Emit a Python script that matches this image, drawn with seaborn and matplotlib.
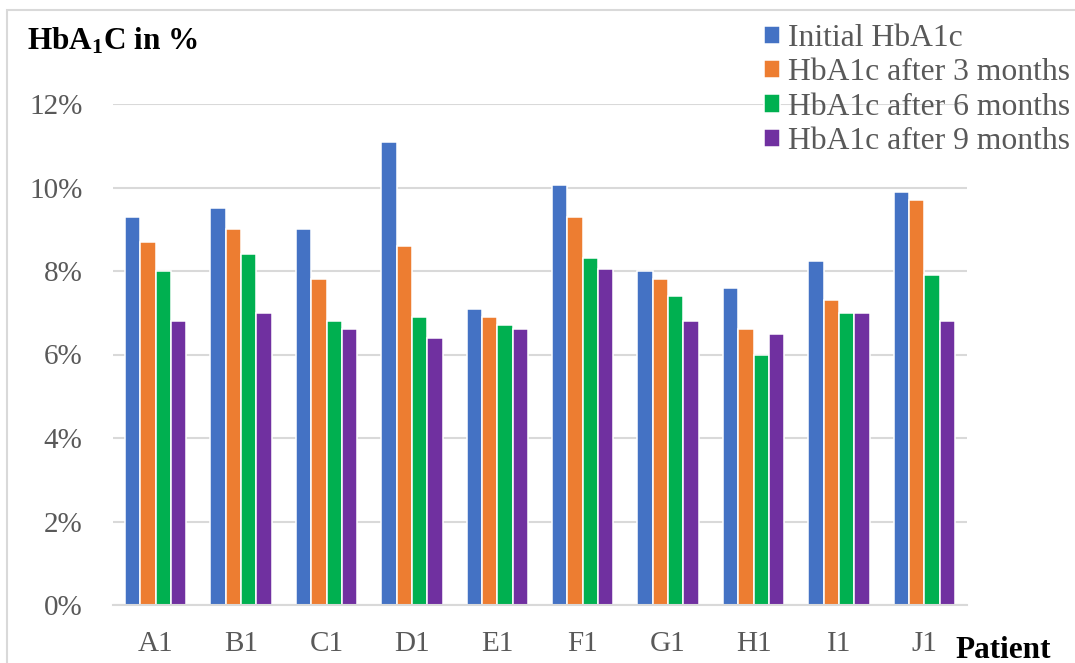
import matplotlib
matplotlib.use("Agg")
import matplotlib.pyplot as plt
import pandas as pd
import seaborn as sns
from matplotlib.patches import Rectangle

patients = ["A1", "B1", "C1", "D1", "E1", "F1", "G1", "H1", "I1", "J1"]
initial = [9.3, 9.5, 9.0, 11.1, 7.1, 10.05, 8.0, 7.6, 8.25, 9.9]
after_3 = [8.7, 9.0, 7.8, 8.6, 6.9, 9.3, 7.8, 6.6, 7.3, 9.7]
after_6 = [8.0, 8.4, 6.8, 6.9, 6.7, 8.3, 7.4, 6.0, 7.0, 7.9]
after_9 = [6.8, 7.0, 6.6, 6.4, 6.6, 8.05, 6.8, 6.5, 7.0, 6.8]

series_names = [
    "Initial HbA1c",
    "HbA1c after 3 months",
    "HbA1c after 6 months",
    "HbA1c after 9 months",
]
colors = ["#4472C4", "#ED7D31", "#00B050", "#7030A0"]
y_ticks = [0, 2, 4, 6, 8, 10, 12]

frames = []
for name, values in zip(series_names, [initial, after_3, after_6, after_9]):
    frames.append(pd.DataFrame({"Patient": patients, "Value": values, "Series": name}))
df = pd.concat(frames, ignore_index=True)

sns.set_theme(style="white")
plt.rcParams["font.family"] = ["Liberation Serif", "DejaVu Serif"]

fig = plt.figure(figsize=(10.75, 6.63), dpi=100)
ax = fig.add_axes([113 / 1075, 1 - 605 / 663, 854 / 1075, 501 / 663])

sns.barplot(
    data=df,
    x="Patient",
    y="Value",
    hue="Series",
    palette=colors,
    saturation=1,
    width=0.72,
    edgecolor="white",
    linewidth=1.1,
    ax=ax,
    legend=True,
)

ax.set_ylim(0, 12)
ax.set_xlim(-0.5, len(patients) - 0.5)
ax.set_yticks(y_ticks)
ax.set_yticklabels([f"{t}%" for t in y_ticks])
ax.set_xlabel("")
ax.set_ylabel("")
ax.grid(axis="y", color="#D9D9D9", linewidth=1.5)
ax.set_axisbelow(True)
for side in ["top", "right", "left"]:
    ax.spines[side].set_visible(False)
ax.spines["bottom"].set_color("#D9D9D9")
ax.spines["bottom"].set_linewidth(1.5)
ax.tick_params(axis="both", length=0, labelsize=21, labelcolor="#595959")
ax.tick_params(axis="y", pad=22)
ax.tick_params(axis="x", pad=19)

handles, labels = ax.get_legend_handles_labels()
ax.legend(
    handles,
    labels,
    loc="upper left",
    bbox_to_anchor=(764 / 1075, 1 - 24 / 663),
    bbox_transform=fig.transFigure,
    frameon=False,
    fontsize=22.8,
    handlelength=0.5,
    handleheight=0.5,
    handletextpad=0.26,
    labelspacing=0.17,
    labelcolor="#595959",
    borderpad=0,
    borderaxespad=0,
)

fig.text(27 / 1075, 1 - 50 / 663, r"HbA$\mathregular{_1}$C in %", fontsize=22.5,
         fontweight="bold", color="black", va="baseline", ha="left")
fig.text(955 / 1075, 1 - 658 / 663, "Patient", fontsize=22.5,
         fontweight="bold", color="black", va="baseline", ha="left")

fig.patches.append(Rectangle((7 / 1075, -0.1), 1.2, 1 - 10 / 663 + 0.1,
                             transform=fig.transFigure, fill=False,
                             edgecolor="#D9D9D9", linewidth=1.5))

fig.savefig("out.png", dpi=100)
